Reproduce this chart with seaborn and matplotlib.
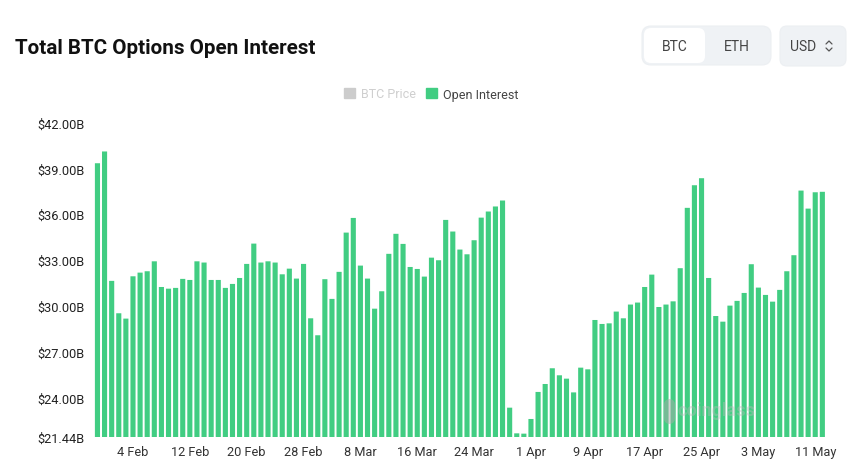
import matplotlib
matplotlib.use('Agg')
import matplotlib.pyplot as plt
from matplotlib.patches import FancyBboxPatch, Patch
import pandas as pd
import seaborn as sns

# open interest in billions of USD
open_interest = [
    39.34, 40.11, 31.64, 29.52, 29.17, 31.94, 32.18, 32.27, 32.92, 31.24,
    31.13, 31.18, 31.77, 31.70, 32.92, 32.84, 31.70, 31.70, 31.18, 31.44,
    31.83, 32.75, 34.08, 32.84, 32.92, 32.84, 32.07, 32.44, 31.79, 32.75,
    29.19, 28.08, 31.75, 30.46, 32.23, 34.80, 35.76, 32.64, 31.79, 29.82,
    30.96, 33.41, 34.72, 34.06, 32.55, 32.42, 31.92, 33.16, 32.99, 35.63,
    34.87, 33.69, 33.38, 34.30, 35.78, 36.18, 36.51, 36.90, 23.34, 21.66,
    21.64, 22.60, 24.37, 24.89, 25.92, 25.46, 25.24, 24.34, 25.96, 25.85,
    29.08, 28.82, 28.86, 29.63, 29.19, 30.09, 30.22, 31.24, 32.05, 29.93,
    30.09, 30.30, 32.47, 36.42, 37.90, 38.36, 31.83, 29.34, 28.97, 30.02,
    30.33, 30.85, 32.73, 31.20, 30.72, 30.28, 31.05, 32.27, 33.32, 37.55,
    36.37, 37.44, 37.47,
]
dates = pd.date_range('2025-01-30', periods=len(open_interest))
y_ticks = [21.44, 24, 27, 30, 33, 36, 39, 42]
y_labels = ['$21.44B', '$24.00B', '$27.00B', '$30.00B', '$33.00B', '$36.00B', '$39.00B', '$42.00B']
x_labels = ['4 Feb', '12 Feb', '20 Feb', '28 Feb', '8 Mar', '16 Mar', '24 Mar', '1 Apr',
            '9 Apr', '17 Apr', '25 Apr', '3 May', '11 May']

GREEN = '#41cd82'
W, H = 860, 460

sns.set_theme(style='white')
plt.rcParams['font.family'] = ['Roboto', 'DejaVu Sans']

df = pd.DataFrame({'date': dates, 'oi': open_interest})

fig = plt.figure(figsize=(8.6, 4.6), dpi=100)
left, right, top, bottom = 93.9, 825.9, 123.6, 437.7
ax = fig.add_axes([left / W, 1 - bottom / H, (right - left) / W, (bottom - top) / H])

sns.barplot(data=df, x='date', y='oi', color=GREEN, saturation=1, width=0.72, linewidth=0, ax=ax)
for bar in ax.patches:
    bar.set_snap(False)
ax.set_xlim(-0.5, len(open_interest) - 0.5)
ax.set_ylim(y_ticks[0], y_ticks[-1])
ax.set_xlabel('')
ax.set_ylabel('')
ax.set_xticks(range(5, 5 + 8 * len(x_labels), 8))
ax.set_xticklabels(x_labels, fontsize=9.2, color='#333333')
ax.set_yticks(y_ticks)
ax.set_yticklabels(y_labels, fontsize=9.2, color='#222222')
ax.tick_params(axis='both', length=0)
ax.tick_params(axis='x', pad=6)
ax.tick_params(axis='y', pad=7)
sns.despine(ax=ax, left=True, bottom=True)

ax.legend(handles=[Patch(color='#cccccc', label='BTC Price'), Patch(color=GREEN, label='Open Interest')],
          loc='center', bbox_to_anchor=(431 / W, 1 - 95 / H), bbox_transform=fig.transFigure,
          ncol=2, frameon=False, fontsize=9, handlelength=0.9, handleheight=0.9,
          handletextpad=0.45, columnspacing=0.8, labelcolor=['#cfcfcf', '#444444'])

# page furniture, drawn in pixel coordinates
page = fig.add_axes([0, 0, 1, 1], zorder=5)
page.set_xlim(0, W)
page.set_ylim(H, 0)
page.axis('off')
page.patch.set_alpha(0)

page.text(15, 48.5, 'Total BTC Options Open Interest', fontsize=14.9, fontweight='bold',
          color='#111111', va='center', ha='left')


def button(x0, y0, x1, y1, color, edge='none', rad=9):
    page.add_patch(FancyBboxPatch((x0 + rad, y0 + rad), x1 - x0 - 2 * rad, y1 - y0 - 2 * rad,
                                  boxstyle=f'round,pad={rad}', facecolor=color, edgecolor=edge, lw=0.8))


button(642, 27, 771, 66, '#eff2f5', edge='#eceff2')
button(644, 29, 705, 64, 'white', rad=7)
button(780, 27, 846, 67, '#eff2f5', edge='#eceff2', rad=7)
page.text(675, 47, 'BTC', fontsize=10, color='#444444', ha='center', va='center')
page.text(737, 47, 'ETH', fontsize=10, color='#444444', ha='center', va='center')
page.text(803, 47, 'USD', fontsize=10, color='#444444', ha='center', va='center')
page.plot([826, 829, 832], [45, 42, 45], color='#555555', lw=0.9)
page.plot([826, 829, 832], [49, 52, 49], color='#555555', lw=0.9)

# watermark sits on top of the bars
page.text(716, 411, 'coinglass', fontsize=13, fontweight='bold', color='#bbbbbb', alpha=0.4,
          ha='center', va='center')
page.plot([669, 669], [405, 419], color='#aaaaaa', alpha=0.5, lw=8, solid_capstyle='round')

fig.savefig('out.png', dpi=100, facecolor='white')
